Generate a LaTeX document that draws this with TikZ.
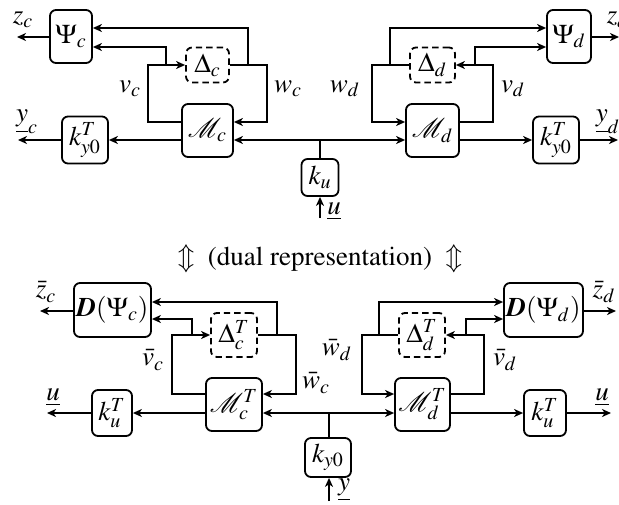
\documentclass[tikz,border=0pt]{standalone}
\usepackage[T1]{fontenc}
\usepackage{mathptmx}
\usetikzlibrary{arrows.meta}
\newcommand{\bD}{\mbox{\bfseries\itshape D}}
\begin{document}
\begin{tikzpicture}[x=0.5pt,y=-0.5pt,
  font=\fontsize{13.5}{16}\selectfont,
  line width=0.9pt,
  arr/.style={-{Stealth[length=4.5pt,width=4pt,inset=1.3pt]}},
  blk/.style={draw,rounded corners=3pt,inner sep=0pt},
  dblk/.style={draw,rounded corners=3pt,inner sep=0pt,dash pattern=on 3.2pt off 2pt},
  lbl/.style={inner sep=0pt}]
\useasboundingbox (0,0) rectangle (619,504);
% ---------------- top ----------------
\node[blk,minimum width=21pt,minimum height=26.5pt] (Psic) at (71,36.5) {$\Psi_c$};
\node[dblk,minimum width=21.5pt,minimum height=17.5pt] (Deltac) at (207.5,65) {$\Delta_c$};
\node[blk,minimum width=25.5pt,minimum height=26.5pt] (Mc) at (207.5,130.5) {$\mathcal{M}_c$};
\node[blk,minimum width=23pt,minimum height=23.5pt] (kyc) at (85,140) {$k_{y0}^T$};
\node[blk,minimum width=18.5pt,minimum height=18.5pt] (ku) at (320,177.5) {$k_u$};
\node[blk,minimum width=26.5pt,minimum height=26.5pt] (Md) at (432.5,130.5) {$\mathcal{M}_d$};
\node[dblk,minimum width=22.5pt,minimum height=17.5pt] (Deltad) at (432.5,65) {$\Delta_d$};
\node[blk,minimum width=22pt,minimum height=26.5pt] (Psid) at (569,36.5) {$\Psi_d$};
\node[blk,minimum width=23pt,minimum height=23.5pt] (kyd) at (556,140) {$k_{y0}^T$};

\coordinate (cL) at (148,122); \coordinate (cLt) at (148,65);
\coordinate (cR) at (267,122); \coordinate (cRt) at (267,65);
\coordinate (vcb) at (166,47); \coordinate (wcb) at (248,28);
\draw[arr] (cL -| Mc.west) -- (cL) -- (cLt) -- (Deltac.west);
\draw[arr] (Deltac.east) -- (cRt) -- (cR) -- (cR -| Mc.east);
\draw[arr] (vcb |- cLt) -- (vcb) -- (vcb -| Psic.east);
\draw[arr] (wcb |- cRt) -- (wcb) -- (wcb -| Psic.east);
\coordinate (zc) at (17,37);
\draw[arr] (Psic.west |- zc) -- (zc);
\node[lbl] (zcl) at (23,20) {$z_c$};
\coordinate (jt) at (320,140);
\draw (ku.north) -- (jt);
\draw[arr] (jt) -- (jt -| Mc.east);
\draw[arr] (jt) -- (jt -| Md.west);
\draw[arr] (jt -| Mc.west) -- (kyc.east);
\coordinate (yc) at (18,140);
\draw[arr] (kyc.west) -- (yc);
\node[lbl] (ycl) at (27,122) {$\underline{y}_c$};
\coordinate (uin) at (320,218);
\draw[arr] (uin) -- (ku.south);
\node[lbl] (ul) at (334,211) {$\underline{u}$};
\node[lbl] (vcl) at (130,89) {$v_c$};
\node[lbl] (wcl) at (288,89) {$w_c$};

\coordinate (dL) at (372,122); \coordinate (dLt) at (372,65);
\coordinate (dR) at (493,122); \coordinate (dRt) at (493,65);
\coordinate (wdb) at (390,28); \coordinate (vdb) at (475,47);
\draw[arr] (Deltad.west) -- (dLt) -- (dL) -- (dL -| Md.west);
\draw[arr] (dR -| Md.east) -- (dR) -- (dRt) -- (Deltad.east);
\draw[arr] (wdb |- dLt) -- (wdb) -- (wdb -| Psid.west);
\draw[arr] (vdb |- dRt) -- (vdb) -- (vdb -| Psid.west);
\draw[arr] (Md.east |- jt) -- (kyd.west);
\coordinate (yd) at (618,140);
\draw[arr] (kyd.east) -- (yd);
\node[lbl,anchor=west] (ydl) at (595,122) {$\underline{y}_d$};
\coordinate (zd) at (619,37);
\draw[arr] (Psid.east |- zd) -- (zd);
\node[lbl,anchor=west] (zdl) at (606,20) {$z_d$};
\node[lbl] (wdl) at (345,89) {$w_d$};
\node[lbl] (vdl) at (513,89) {$v_d$};

% ---------------- middle ----------------
\node[lbl] (mid) at (320,259) {$\Updownarrow$\ \ (dual representation)\ \ $\Updownarrow$};

% ---------------- bottom ----------------
\node[blk,minimum width=38.5pt,minimum height=27pt] (DPsic) at (112.5,310) {$\bD(\Psi_c)$};
\node[dblk,minimum width=23pt,minimum height=22pt] (Deltact) at (234,335) {$\Delta_c^T$};
\node[blk,minimum width=28pt,minimum height=26.5pt] (Mct) at (234,404.5) {$\mathcal{M}_c^T$};
\node[blk,minimum width=20pt,minimum height=23pt] (kuc) at (112,413) {$k_u^T$};
\node[blk,minimum width=23pt,minimum height=19.5pt] (ky0) at (328,457.5) {$k_{y0}$};
\node[blk,minimum width=27.5pt,minimum height=26.5pt] (Mdt) at (422.5,404.5) {$\mathcal{M}_d^T$};
\node[dblk,minimum width=23pt,minimum height=22pt] (Deltadt) at (422,335) {$\Delta_d^T$};
\node[blk,minimum width=39.5pt,minimum height=27pt] (DPsid) at (543.5,310) {$\bD(\Psi_d)$};
\node[blk,minimum width=21pt,minimum height=23pt] (kud) at (545,413) {$k_u^T$};

\coordinate (bcL) at (172,394); \coordinate (bcLt) at (172,335);
\coordinate (bcR) at (296,394); \coordinate (bcRt) at (296,335);
\coordinate (bvcb) at (192,319); \coordinate (bwcb) at (277,302);
\draw[arr] (bcL -| Mct.west) -- (bcL) -- (bcLt) -- (Deltact.west);
\draw[arr] (Deltact.east) -- (bcRt) -- (bcR) -- (bcR -| Mct.east);
\draw[arr] (bvcb |- bcLt) -- (bvcb) -- (bvcb -| DPsic.east);
\draw[arr] (bwcb |- bcRt) -- (bwcb) -- (bwcb -| DPsic.east);
\coordinate (zbc) at (40,311);
\draw[arr] (DPsic.west |- zbc) -- (zbc);
\node[lbl] (zbcl) at (46,292) {$\bar{z}_c$};
\coordinate (jb) at (329,413);
\draw (ky0.north -| jb) -- (jb);
\draw[arr] (jb) -- (jb -| Mct.east);
\draw[arr] (jb) -- (jb -| Mdt.west);
\draw[arr] (jb -| Mct.west) -- (kuc.east);
\coordinate (ubc) at (47,413);
\draw[arr] (kuc.west) -- (ubc);
\node[lbl] (ubcl) at (53,397) {$\underline{u}$};
\coordinate (yin) at (329,501);
\draw[arr] (yin) -- (yin |- ky0.south);
\node[lbl] (yl) at (344,490) {$\underline{y}$};
\node[lbl] (bvcl) at (153,360) {$\bar{v}_c$};
\node[lbl] (bwcl) at (316,383) {$\bar{w}_c$};

\coordinate (bdL) at (362,394); \coordinate (bdLt) at (362,335);
\coordinate (bdR) at (484,394); \coordinate (bdRt) at (484,335);
\coordinate (bwdb) at (379,302); \coordinate (bvdb) at (466,319);
\draw[arr] (Deltadt.west) -- (bdLt) -- (bdL) -- (bdL -| Mdt.west);
\draw[arr] (bdR -| Mdt.east) -- (bdR) -- (bdRt) -- (Deltadt.east);
\draw[arr] (bwdb |- bdLt) -- (bwdb) -- (bwdb -| DPsid.west);
\draw[arr] (bvdb |- bdRt) -- (bvdb) -- (bvdb -| DPsid.west);
\draw[arr] (Mdt.east |- jb) -- (kud.west);
\coordinate (ubd) at (611,413);
\draw[arr] (kud.east) -- (ubd);
\node[lbl] (ubdl) at (602,397) {$\underline{u}$};
\coordinate (zbd) at (616,311);
\draw[arr] (DPsid.east |- zbd) -- (zbd);
\node[lbl] (zbdl) at (604,292) {$\bar{z}_d$};
\node[lbl] (bwdl) at (337,350) {$\bar{w}_d$};
\node[lbl] (bvdl) at (505,360) {$\bar{v}_d$};
\end{tikzpicture}
\end{document}
